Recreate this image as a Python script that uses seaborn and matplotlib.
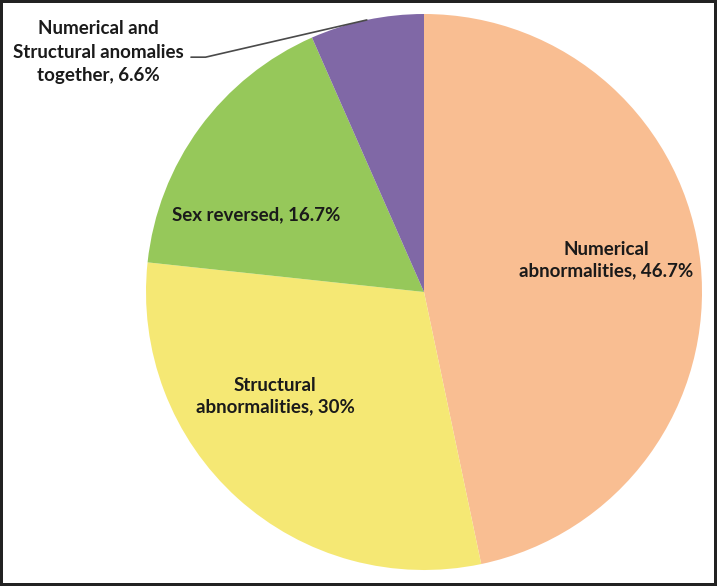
import numpy as np
import seaborn as sns
import matplotlib.pyplot as plt

labels = ['Numerical\nabnormalities, 46.7%', 'Structural\nabnormalities, 30%',
          'Sex reversed, 16.7%', 'Numerical and\nStructural anomalies\ntogether, 6.6%']
values = [46.7, 30, 16.7, 6.6]
colors = ['#F9BE92', '#F5E874', '#96C85A', '#8068A6']

# label positions (data units, pie radius = 1)
label_pos = [(0.655, 0.115), (-0.536, -0.374), (-0.605, 0.277), (-1.172, 0.863)]

sns.set_style('white')
plt.rcParams['font.family'] = ['Lato', 'DejaVu Sans']

fig = plt.figure(figsize=(7.17, 5.86), dpi=100)
fig.patch.set_edgecolor('#222222')
fig.patch.set_linewidth(3)

W, H = 717, 586
cx, cy, R = 424, 292, 278
ax = fig.add_axes([(cx - R) / W, (H - cy - R) / H, 2 * R / W, 2 * R / H])

pal = sns.color_palette(colors)
wedges, _ = ax.pie(values, colors=pal, startangle=90, counterclock=False,
                   wedgeprops=dict(linewidth=0))
ax.set_xlim(-1, 1)
ax.set_ylim(-1, 1)
ax.set_aspect('equal')
ax.axis('off')

fs = 13.5
for i, (lab, pos) in enumerate(zip(labels, label_pos)):
    if i == 3:
        w = wedges[i]
        mid = np.deg2rad((w.theta1 + w.theta2) / 2)
        ax.annotate(lab, xy=(np.cos(mid), np.sin(mid)), xytext=pos,
                    ha='center', va='center', fontsize=fs, fontweight='bold',
                    color='#1a1a1a', annotation_clip=False, linespacing=1.45,
                    arrowprops=dict(arrowstyle='-', color='#4a4a4a', lw=1.2,
                                    shrinkA=3, shrinkB=0,
                                    connectionstyle='angle,angleA=0,angleB=13,rad=0',
                                    relpos=(1.0, 0.42)))
    else:
        ax.text(pos[0], pos[1], lab, ha='center', va='center', fontsize=fs,
                fontweight='bold', color='#1a1a1a', linespacing=1.3)

fig.savefig('out.png', dpi=100, edgecolor=fig.get_edgecolor())
